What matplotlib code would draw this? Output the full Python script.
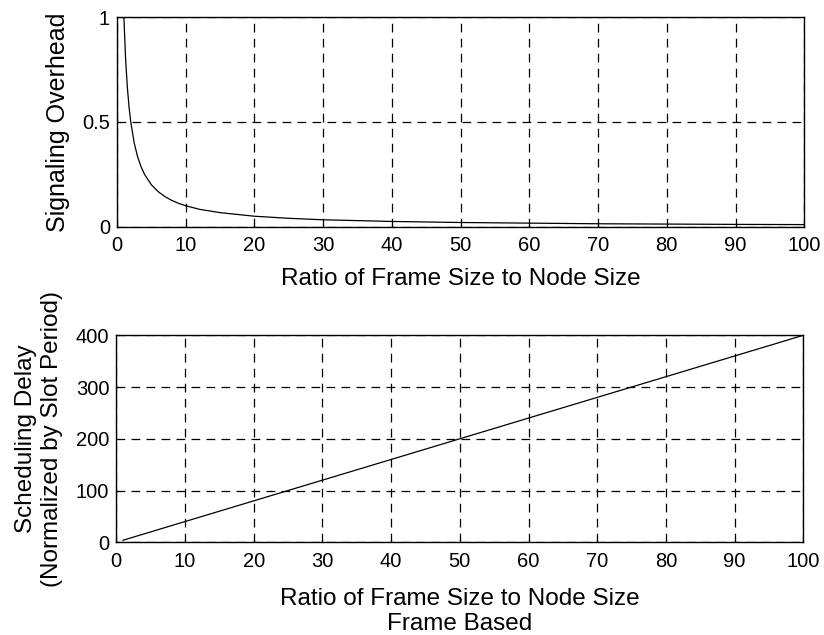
import matplotlib
matplotlib.use('Agg')
import matplotlib.pyplot as plt

plt.rcParams.update({
    'font.family': 'Liberation Sans',
    'font.size': 14.5,
    'xtick.direction': 'in',
    'ytick.direction': 'in',
    'xtick.major.size': 3,
    'ytick.major.size': 3,
})

# Top panel: signaling overhead vs ratio
ratio_top = [1, 1.25, 1.5, 1.75, 2, 2.5, 3, 3.5, 4, 5, 6, 7, 8, 9, 10, 12, 15, 20, 25, 30,
             40, 50, 60, 70, 80, 90, 100]
overhead = [1.0, 0.8, 0.667, 0.571, 0.5, 0.4, 0.333, 0.286, 0.25, 0.2, 0.167, 0.143, 0.125,
            0.111, 0.1, 0.083, 0.067, 0.05, 0.04, 0.033, 0.025, 0.02, 0.017, 0.014, 0.0125,
            0.011, 0.01]

# Bottom panel: scheduling delay vs ratio
ratio_bot = [1, 5, 10, 20, 30, 40, 50, 60, 70, 80, 90, 100]
delay = [4, 20, 40, 80, 120, 160, 200, 240, 280, 320, 360, 400]

xticks = [0, 10, 20, 30, 40, 50, 60, 70, 80, 90, 100]

fig = plt.figure(figsize=(8.24, 6.35), dpi=100)
ax1 = fig.add_axes([0.142, 0.643, 0.834, 0.330])
ax2 = fig.add_axes([0.141, 0.146, 0.834, 0.326])

grid_kw = dict(color='black', linestyle=(0, (7, 5)), linewidth=0.9)

ax1.plot(ratio_top, overhead, color='black', linewidth=0.9)
ax1.set_xlim(0, 100)
ax1.set_ylim(0, 1)
ax1.set_xticks(xticks)
ax1.set_yticks([0, 0.5, 1])
ax1.set_yticklabels(['0', '0.5', '1'])
ax1.grid(True, **grid_kw)
ax1.set_xlabel('Ratio of Frame Size to Node Size', fontsize=17.5, labelpad=9)
ax1.set_ylabel('Signaling Overhead', fontsize=18, labelpad=9)

ax2.plot(ratio_bot, delay, color='black', linewidth=0.9)
ax2.set_xlim(0, 100)
ax2.set_ylim(0, 400)
ax2.set_xticks(xticks)
ax2.set_yticks([0, 100, 200, 300, 400])
ax2.grid(True, **grid_kw)
ax2.set_xlabel('Ratio of Frame Size to Node Size\nFrame Based', fontsize=17.5,
               labelpad=12, linespacing=1.2)
ax2.set_ylabel('Scheduling Delay\n(Normalized by Slot Period)', fontsize=17.5,
               labelpad=9, linespacing=1.25)

for ax in (ax1, ax2):
    for s in ax.spines.values():
        s.set_linewidth(1.0)
    ax.tick_params(axis='x', pad=7)
    ax.tick_params(axis='y', pad=5)

fig.savefig('out.png', dpi=100)
